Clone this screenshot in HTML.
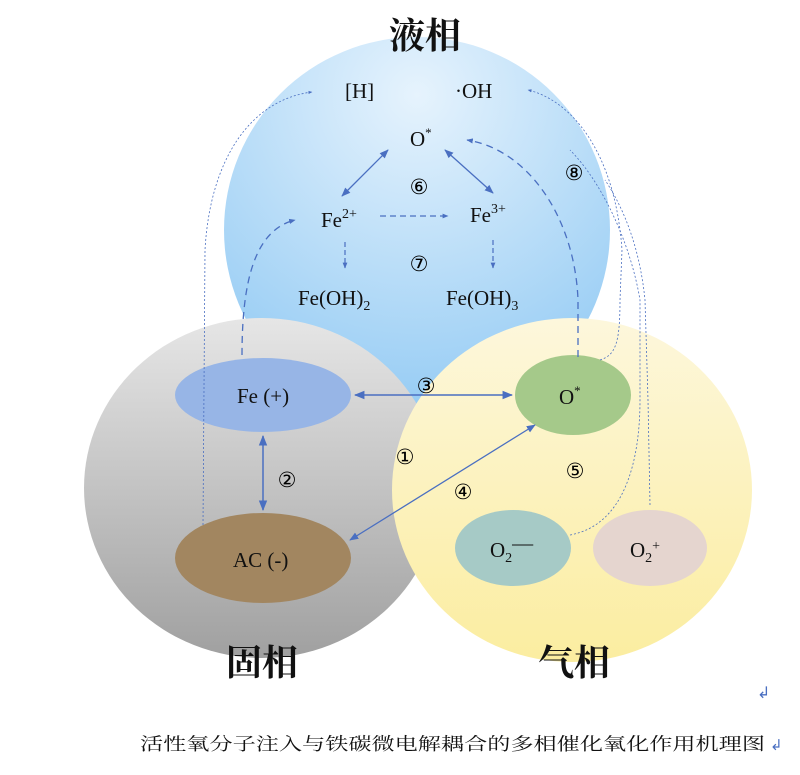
<!DOCTYPE html>
<html><head><meta charset="utf-8"><style>
html,body{margin:0;padding:0;background:#fff;width:800px;height:775px;overflow:hidden}
svg{display:block}
text{font-family:"Liberation Serif","Noto Serif CJK SC",serif;fill:#111}
.cn{font-family:"Liberation Serif","Noto Serif CJK SC","Noto Sans CJK SC",serif;font-weight:bold}
.n{font-family:'DejaVu Sans',sans-serif;fill:#000}
</style></head><body>
<svg width="800" height="775" viewBox="0 0 800 775" xmlns="http://www.w3.org/2000/svg">
<defs>
<radialGradient id="gb" cx="0.5" cy="0.15" r="0.9"><stop offset="0" stop-color="#e6f3fd"/><stop offset="1" stop-color="#8ec8f3"/></radialGradient>
<linearGradient id="gg" x1="0" y1="0" x2="0" y2="1"><stop offset="0" stop-color="#e6e6e6"/><stop offset="1" stop-color="#a0a0a0"/></linearGradient>
<linearGradient id="gy" x1="0" y1="0" x2="0" y2="1"><stop offset="0" stop-color="#fdf7dc"/><stop offset="1" stop-color="#fbeda0"/></linearGradient>
<marker id="a" viewBox="0 0 10 10" refX="9" refY="5" markerWidth="7" markerHeight="7" orient="auto-start-reverse"><path d="M0,1 L10,5 L0,9 Z" fill="#4a6fc1"/></marker>
<marker id="s" viewBox="0 0 10 10" refX="9" refY="5" markerWidth="5" markerHeight="5" orient="auto-start-reverse"><path d="M0,1 L10,5 L0,9 Z" fill="#4a6fc1"/></marker>
</defs>
<circle cx="417" cy="230" r="193" fill="url(#gb)"/>
<ellipse cx="262" cy="488" rx="178" ry="170" fill="url(#gg)"/>
<ellipse cx="572" cy="490" rx="180" ry="172" fill="url(#gy)"/>
<ellipse cx="263" cy="395" rx="88" ry="37" fill="#97b5e6"/>
<ellipse cx="573" cy="395" rx="58" ry="40" fill="#a5c98a"/>
<ellipse cx="263" cy="558" rx="88" ry="45" fill="#a28660"/>
<ellipse cx="513" cy="548" rx="58" ry="38" fill="#a6cac6"/>
<ellipse cx="650" cy="548" rx="57" ry="38" fill="#e5d5cf"/>
<g fill="none" stroke="#4a6fc1">
<line x1="355" y1="395" x2="512" y2="395" stroke-width="1.5" marker-start="url(#a)" marker-end="url(#a)"/>
<line x1="263" y1="436" x2="263" y2="510" stroke-width="1.5" marker-start="url(#a)" marker-end="url(#a)"/>
<line x1="350" y1="540" x2="535" y2="425" stroke-width="1.3" marker-start="url(#a)" marker-end="url(#a)"/>
<line x1="342" y1="196" x2="388" y2="150" stroke-width="1.3" marker-start="url(#a)" marker-end="url(#a)"/>
<line x1="445" y1="150" x2="493" y2="193" stroke-width="1.3" marker-start="url(#a)" marker-end="url(#a)"/>
<line x1="380" y1="216" x2="448" y2="216" stroke-width="1.2" stroke-dasharray="6,4" marker-end="url(#s)"/>
<line x1="345" y1="242" x2="345" y2="268" stroke-width="1.2" stroke-dasharray="5,3" marker-end="url(#s)"/>
<line x1="493" y1="240" x2="493" y2="268" stroke-width="1.2" stroke-dasharray="5,3" marker-end="url(#s)"/>
<path d="M242,355 C242,280 255,230 295,220" stroke-width="1.3" stroke-dasharray="7,5" marker-end="url(#s)"/>
<path d="M578,357 L578,300 C575,220 530,150 467,140" stroke-width="1.3" stroke-dasharray="7,5" marker-end="url(#s)"/>
<path d="M203,525 L205,250 C210,160 250,100 312,92" stroke-width="0.8" stroke-dasharray="2,2" marker-end="url(#s)"/>
<path d="M600,360 C615,355 620,345 620,300 L622,250 C615,150 570,100 528,90" stroke-width="0.8" stroke-dasharray="2,2" marker-end="url(#s)"/>
<path d="M570,535 C625,525 640,460 640,400 L640,300 C630,240 600,180 570,150" stroke-width="0.8" stroke-dasharray="2,2"/>
<path d="M650,505 L648,400 L645,300 C640,250 625,210 605,180" stroke-width="0.8" stroke-dasharray="2,2"/>
</g>
<text x="425" y="48" font-size="36" text-anchor="middle" class="cn">液相</text>
<text x="262" y="675" font-size="36" text-anchor="middle" class="cn">固相</text>
<text x="574" y="675" font-size="36" text-anchor="middle" class="cn">气相</text>
<g font-size="21">
<text x="345" y="98">[H]</text>
<text x="455" y="98">·OH</text>
<text x="410" y="146">O<tspan font-size="13" dy="-9">*</tspan></text>
<text x="321" y="227">Fe<tspan font-size="14" dy="-9">2+</tspan></text>
<text x="470" y="222">Fe<tspan font-size="14" dy="-9">3+</tspan></text>
<text x="298" y="305">Fe(OH)<tspan font-size="14" dy="5">2</tspan></text>
<text x="446" y="305">Fe(OH)<tspan font-size="14" dy="5">3</tspan></text>
<text x="237" y="403">Fe (+)</text>
<text x="559" y="404">O<tspan font-size="13" dy="-9">*</tspan></text>
<text x="233" y="567">AC (-)</text>
<text x="490" y="557">O<tspan font-size="14" dy="5">2</tspan><tspan dy="-12">—</tspan></text>
<text x="630" y="557">O<tspan font-size="14" dy="5">2</tspan><tspan font-size="14" dy="-12">+</tspan></text>
</g>
<g font-size="21" text-anchor="middle">
<text class="n" x="419" y="194">⑥</text>
<text class="n" x="419" y="271">⑦</text>
<text class="n" x="574" y="180">⑧</text>
<text class="n" x="426" y="393">③</text>
<text class="n" x="287" y="487">②</text>
<text class="n" x="405" y="464">①</text>
<text class="n" x="463" y="499">④</text>
<text class="n" x="575" y="478">⑤</text>
</g>
<text x="757" y="698" font-size="16" style="fill:#4a6fc1;font-family:'DejaVu Sans',sans-serif">↲</text>
<text x="140" y="750" font-size="17.5" textLength="625" lengthAdjust="spacingAndGlyphs">活性氧分子注入与铁碳微电解耦合的多相催化氧化作用机理图</text>
<text x="770" y="750" font-size="15" style="fill:#4a6fc1;font-family:'DejaVu Sans',sans-serif">↲</text>
</svg>
</body></html>
